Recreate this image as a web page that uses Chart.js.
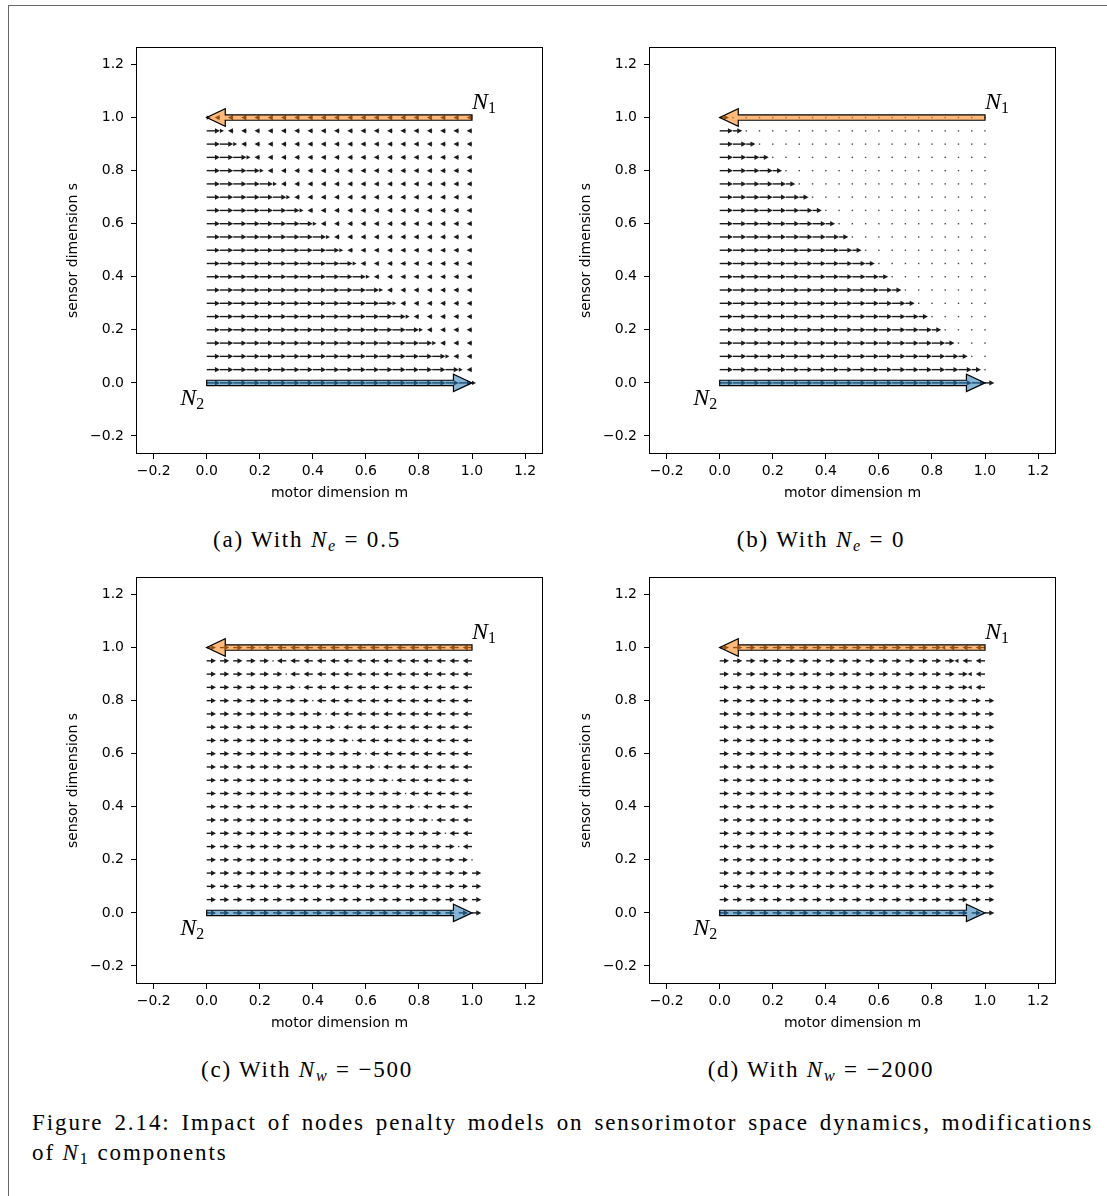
<!DOCTYPE html>
<html>
<head>
<meta charset="utf-8">
<script src="https://cdn.jsdelivr.net/npm/chart.js@4.4.1/dist/chart.umd.min.js"></script>
<style>
  body { margin: 0; background: #fff; }
  #page { position: relative; width: 1107px; height: 1196px; overflow: hidden; background: #fff; }
  #frame { position: absolute; left: 8px; top: 5px; width: 1200px; height: 1300px; border-left: 1px solid #666; border-top: 1px solid #666; }
  canvas { position: absolute; }
  .cap { position: absolute; font-family: "Liberation Serif", serif; font-size: 23px; color: #000; white-space: nowrap; transform: translateX(-50%); line-height: 1; letter-spacing: 1.8px; word-spacing: 0px; }
  .cap sub, .figcap sub { font-size: 70%; vertical-align: -0.25em; line-height: 0; }
  .figcap { position: absolute; left: 32px; width: 1061px; font-family: "Liberation Serif", serif; font-size: 23px; line-height: 1; color: #000; letter-spacing: 1.9px; word-spacing: 0px; }
  #line1 { text-align: justify; text-align-last: justify; }
</style>
</head>
<body>
<div id="page">
  <div id="frame"></div>
  <canvas id="pa" width="510" height="480" style="left:50px;top:30px"></canvas>
  <canvas id="pb" width="510" height="480" style="left:563px;top:30px"></canvas>
  <canvas id="pc" width="510" height="480" style="left:50px;top:560px"></canvas>
  <canvas id="pd" width="510" height="480" style="left:563px;top:560px"></canvas>

  <div class="cap" style="left:307px;top:528px">(a) With <i>N</i><sub><i>e</i></sub> = 0.5</div>
  <div class="cap" style="left:821px;top:528px">(b) With <i>N</i><sub><i>e</i></sub> = 0</div>
  <div class="cap" style="left:307px;top:1058px">(c) With <i>N</i><sub><i>w</i></sub> = −500</div>
  <div class="cap" style="left:821px;top:1058px">(d) With <i>N</i><sub><i>w</i></sub> = −2000</div>

  <div class="figcap" id="line1" style="top:1111px">Figure 2.14: Impact of nodes penalty models on sensorimotor space dynamics, modifications</div>
  <div class="figcap" style="top:1141px">of <i>N</i><sub>1</sub> components</div>
</div>

<script>
// grid of the quiver plots
const motorVals = [0, 0.05, 0.1, 0.15, 0.2, 0.25, 0.3, 0.35, 0.4, 0.45, 0.5, 0.55, 0.6, 0.65, 0.7, 0.75, 0.8, 0.85, 0.9, 0.95, 1.0];
const sensorVals = [0, 0.05, 0.1, 0.15, 0.2, 0.25, 0.3, 0.35, 0.4, 0.45, 0.5, 0.55, 0.6, 0.65, 0.7, 0.75, 0.8, 0.85, 0.9, 0.95, 1.0];
const tickVals = [-0.2, 0, 0.2, 0.4, 0.6, 0.8, 1.0, 1.2];

// column where each sensor row (s = 0 ... 1) changes direction
const flipNe05 = [20, 19, 18, 17, 16, 15, 14, 13, 12, 11, 10, 9, 8, 7, 6, 5, 4, 3, 2, 1, 0];
const flipNe0 = [20, 19, 18, 17, 16, 15, 14, 13, 12, 11, 10, 9, 8, 7, 6, 5, 4, 3, 2, 1, 0];
const flipNw500 = [21, 21, 21, 21, 20, 19, 18, 17, 16, 15, 14, 13, 12, 11, 10, 9, 8, 7, 6, 5, 4];
const flipNw2000 = [21, 21, 21, 21, 21, 21, 21, 21, 21, 21, 21, 21, 21, 21, 21, 21, 21, 19, 19, 18, 17];

// motor displacement: before flip, at flip, after flip
const uNe05 = [0.05, 0.015, -0.02];
const uNe0 = [0.05, 0.035, 0];
const uNw500 = [0.035, 0, -0.035];
const uNw2000 = [0.035, -0.015, -0.035];

// node arrows N1 and N2 (from -> to)
const n1From = [1, 1], n1To = [0, 1];
const n2From = [0, 0], n2To = [1, 0];

function buildVectors(flip, u) {
    let out = [];
    sensorVals.forEach((s, r) => {
        motorVals.forEach((m, c) => {
            let du = c < flip[r] ? u[0] : (c == flip[r] ? u[1] : u[2]);
            out.push({m: m, s: s, du: du});
        });
    });
    return out;
}

function drawSmall(ctx, x0, x1, py) {
    const len = x1 - x0, dir = Math.sign(len), L = Math.abs(len);
    ctx.fillStyle = '#1a1a1a';
    ctx.strokeStyle = '#1a1a1a';
    if (L < 1) {
        ctx.fillStyle = '#444';
        ctx.fillRect(x0 - 0.7, py - 0.7, 1.4, 1.4);
        return;
    }
    const hl = Math.min(5, L), hw = Math.max(1.5, 2.6 * hl / 5);
    const xb = x1 - dir * hl;
    if (L > hl) {
        ctx.lineWidth = 1.4;
        ctx.beginPath(); ctx.moveTo(x0, py); ctx.lineTo(xb + dir * 0.5, py); ctx.stroke();
    }
    ctx.beginPath();
    ctx.moveTo(x1, py); ctx.lineTo(xb, py - hw); ctx.lineTo(xb, py + hw);
    ctx.closePath(); ctx.fill();
}

function drawNode(ctx, xs, ys, from, to, fill) {
    const w = 0.01, hw = 0.033, hl = 0.07;
    const dir = Math.sign(to[0] - from[0]);
    const xb = to[0] - dir * hl, yy = from[1];
    const pts = [[from[0], yy + w], [xb, yy + w], [xb, yy + hw], [to[0], yy], [xb, yy - hw], [xb, yy - w], [from[0], yy - w]];
    ctx.beginPath();
    pts.forEach((p, i) => {
        const px = xs.getPixelForValue(p[0]), py = ys.getPixelForValue(p[1]);
        if (i == 0) ctx.moveTo(px, py); else ctx.lineTo(px, py);
    });
    ctx.closePath();
    ctx.fillStyle = fill;
    ctx.fill();
    ctx.lineWidth = 1.2;
    ctx.strokeStyle = '#000';
    ctx.stroke();
}

function nodeLabel(ctx, sub, px, py) {
    ctx.save();
    ctx.fillStyle = '#000';
    ctx.textAlign = 'left';
    ctx.textBaseline = 'alphabetic';
    ctx.font = 'italic 24px "Liberation Serif"';
    ctx.fillText('N', px, py);
    const w = ctx.measureText('N').width;
    ctx.font = '16px "Liberation Serif"';
    ctx.fillText(sub, px + w, py + 4);
    ctx.restore();
}

function fmt(v) {
    const t = Math.abs(v).toFixed(1);
    return v < -1e-9 ? '\u2212' + t : t;
}

function makePanel(id, flip, u) {
    const vectors = buildVectors(flip, u);
    const quiver = {
        id: 'quiver',
        afterDatasetsDraw(chart) {
            const {ctx, chartArea: a, scales: {x, y}} = chart;
            ctx.save();
            ctx.beginPath();
            ctx.rect(a.left, a.top, a.right - a.left, a.bottom - a.top);
            ctx.clip();
            vectors.forEach(v => {
                drawSmall(ctx, x.getPixelForValue(v.m), x.getPixelForValue(v.m + v.du), y.getPixelForValue(v.s));
            });
            drawNode(ctx, x, y, n1From, n1To, 'rgba(255,127,14,0.55)');
            drawNode(ctx, x, y, n2From, n2To, 'rgba(31,119,180,0.55)');
            ctx.restore();

            ctx.save();
            ctx.strokeStyle = '#000';
            ctx.lineWidth = 1;
            ctx.strokeRect(a.left + 0.5, a.top + 0.5, a.right - a.left - 1, a.bottom - a.top - 1);
            ctx.restore();

            nodeLabel(ctx, '1', x.getPixelForValue(1.0), y.getPixelForValue(1.033));
            nodeLabel(ctx, '2', x.getPixelForValue(-0.1), y.getPixelForValue(-0.084));
        }
    };

    const tickFont = {family: 'DejaVu Sans', size: 14};
    const grid = {display: true, drawOnChartArea: false, drawTicks: true, tickLength: 5, color: '#000', lineWidth: 1};

    new Chart(document.getElementById(id), {
        type: 'scatter',
        data: {
            datasets: [{
                data: vectors.map(v => ({x: v.m, y: v.s})),
                pointRadius: 0
            }]
        },
        options: {
            responsive: false,
            animation: false,
            devicePixelRatio: 1,
            events: [],
            layout: {padding: {left: 0, top: 17, right: 17, bottom: 0}},
            plugins: {legend: {display: false}, tooltip: {enabled: false}},
            scales: {
                x: {
                    type: 'linear', min: -0.2665, max: 1.2676,
                    afterBuildTicks: s => { s.ticks = tickVals.map(v => ({value: v})); },
                    afterFit: s => { s.height = 56; },
                    grid: grid,
                    border: {display: false},
                    ticks: {color: '#000', font: tickFont, padding: 4, maxRotation: 0, autoSkip: false, callback: v => fmt(v)},
                    title: {display: true, text: 'motor dimension m', color: '#000', font: tickFont, padding: {top: 0, bottom: 8.6}}
                },
                y: {
                    type: 'linear', min: -0.268, max: 1.266,
                    afterBuildTicks: s => { s.ticks = tickVals.map(v => ({value: v})); },
                    afterFit: s => { s.width = 86; },
                    grid: grid,
                    border: {display: false},
                    ticks: {color: '#000', font: tickFont, padding: 7, autoSkip: false, callback: v => fmt(v)},
                    title: {display: true, text: 'sensor dimension s', color: '#000', font: tickFont, padding: {top: 15, bottom: 0}}
                }
            }
        },
        plugins: [quiver]
    });
}

makePanel('pa', flipNe05, uNe05);
makePanel('pb', flipNe0, uNe0);
makePanel('pc', flipNw500, uNw500);
makePanel('pd', flipNw2000, uNw2000);
</script>
</body>
</html>
